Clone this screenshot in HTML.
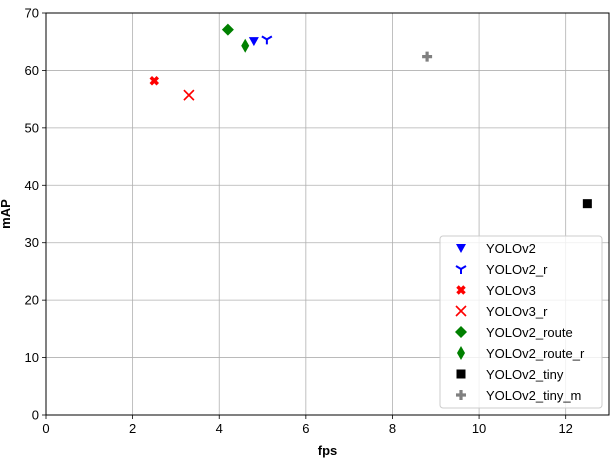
<!DOCTYPE html>
<html><head><meta charset="utf-8"><style>
body{margin:0;background:#fff;}
svg{font-family:"Liberation Sans","DejaVu Sans",sans-serif;}
</style></head><body>
<svg id="c" width="616" height="460" xmlns="http://www.w3.org/2000/svg">
<g id="grid"></g>
<g id="axes"></g>
<g id="marks"></g>
<g id="legend"></g>
</svg>
<script>
const names=["YOLOv2","YOLOv2_r","YOLOv3","YOLOv3_r","YOLOv2_route","YOLOv2_route_r","YOLOv2_tiny","YOLOv2_tiny_m"];
const fpsVals=[4.8,5.1,2.5,3.3,4.2,4.6,12.5,8.8];
const mapVals=[65.1,65.4,58.2,55.7,67.1,64.3,36.8,62.4];
const markers=["tri","y","X","x","D","d","s","P"];
const colors=["#0000ff","#0000ff","#ff0000","#ff0000","#008000","#008000","#000000","#808080"];
const xTicks=[0,2,4,6,8,10,12];
const yTicks=[0,10,20,30,40,50,60,70];
const L=46,R=609,T=13,B=415,xMax=13,yMax=70;
const X=v=>L+v/xMax*(R-L), Y=v=>B-v/yMax*(B-T);
const NS="http://www.w3.org/2000/svg";
function mk(tag,attrs,parent,txt){const e=document.createElementNS(NS,tag);for(const k in attrs)e.setAttribute(k,attrs[k]);if(txt!==undefined)e.textContent=txt;parent.appendChild(e);return e;}
const grid=document.getElementById('grid'),axes=document.getElementById('axes'),marks=document.getElementById('marks'),leg=document.getElementById('legend');
xTicks.forEach(t=>{const x=X(t);
 const g=mk('line',{x1:x,x2:x,y1:T,y2:B,stroke:'#b0b0b0','stroke-width':0.8},grid);
 mk('line',{x1:x,x2:x,y1:B,y2:B+4,stroke:'#000','stroke-width':0.8},axes);
 const tx=mk('text',{x:x,y:B+18,'text-anchor':'middle','font-size':13},axes,String(t));});
yTicks.forEach(t=>{const y=Y(t);
 const g=mk('line',{x1:L,x2:R,y1:y,y2:y,stroke:'#b0b0b0','stroke-width':0.8},grid);
 mk('line',{x1:L-4,x2:L,y1:y,y2:y,stroke:'#000','stroke-width':0.8},axes);
 const tx=mk('text',{x:L-7,y:y+4.5,'text-anchor':'end','font-size':13},axes,String(t));});
const fr=mk('rect',{x:L,y:T,width:R-L,height:B-T,fill:'none',stroke:'#000','stroke-width':1},axes);
const xt=mk('text',{x:(L+R)/2,y:455,'text-anchor':'middle','font-size':13,'font-weight':'bold'},axes,'fps');
const yt=mk('text',{x:10,y:(T+B)/2,'text-anchor':'middle','font-size':13,'font-weight':'bold',transform:`rotate(-90 10 ${(T+B)/2})`},axes,'mAP');
function marker(type,cx,cy,col,p){
 let e;
 if(type==='tri')e=mk('polygon',{points:`${cx-5},${cy-4} ${cx+5},${cy-4} ${cx},${cy+5}`,fill:col},p);
 else if(type==='y')e=mk('path',{d:`M${cx} ${cy}V${cy-5}M${cx} ${cy}L${cx-5} ${cy+3}M${cx} ${cy}L${cx+5} ${cy+3}`,stroke:col,'stroke-width':2,fill:'none',transform:`rotate(180 ${cx} ${cy})`},p);
 else if(type==='X')e=mk('path',{d:`M${cx-3.5} ${cy-3.5}L${cx+3.5} ${cy+3.5}M${cx+3.5} ${cy-3.5}L${cx-3.5} ${cy+3.5}`,stroke:col,'stroke-width':3.5},p);
 else if(type==='x')e=mk('path',{d:`M${cx-5} ${cy-5}L${cx+5} ${cy+5}M${cx+5} ${cy-5}L${cx-5} ${cy+5}`,stroke:col,'stroke-width':1.6},p);
 else if(type==='D')e=mk('polygon',{points:`${cx},${cy-6} ${cx+6},${cy} ${cx},${cy+6} ${cx-6},${cy}`,fill:col},p);
 else if(type==='d')e=mk('polygon',{points:`${cx},${cy-7} ${cx+4},${cy} ${cx},${cy+7} ${cx-4},${cy}`,fill:col},p);
 else if(type==='s')e=mk('rect',{x:cx-4.5,y:cy-4.5,width:9,height:9,fill:col},p);
 else e=mk('path',{d:`M${cx-5} ${cy}H${cx+5}M${cx} ${cy-5}V${cy+5}`,stroke:col,'stroke-width':3.2},p);
 return e;
}
names.forEach((n,i)=>{const m=marker(markers[i],X(fpsVals[i]),Y(mapVals[i]),colors[i],marks);
 
 });
const lb=mk('rect',{x:440,y:236,width:162,height:172,rx:3,fill:'#fff','fill-opacity':0.8,stroke:'#ccc'},leg);

names.forEach((n,i)=>{const y=248+i*21;const g=mk('g',{},leg);
 
 
 marker(markers[i],461,y,colors[i],g);
 mk('text',{x:486,y:y+5,'font-size':13},g,n);});
</script>
</body></html>
